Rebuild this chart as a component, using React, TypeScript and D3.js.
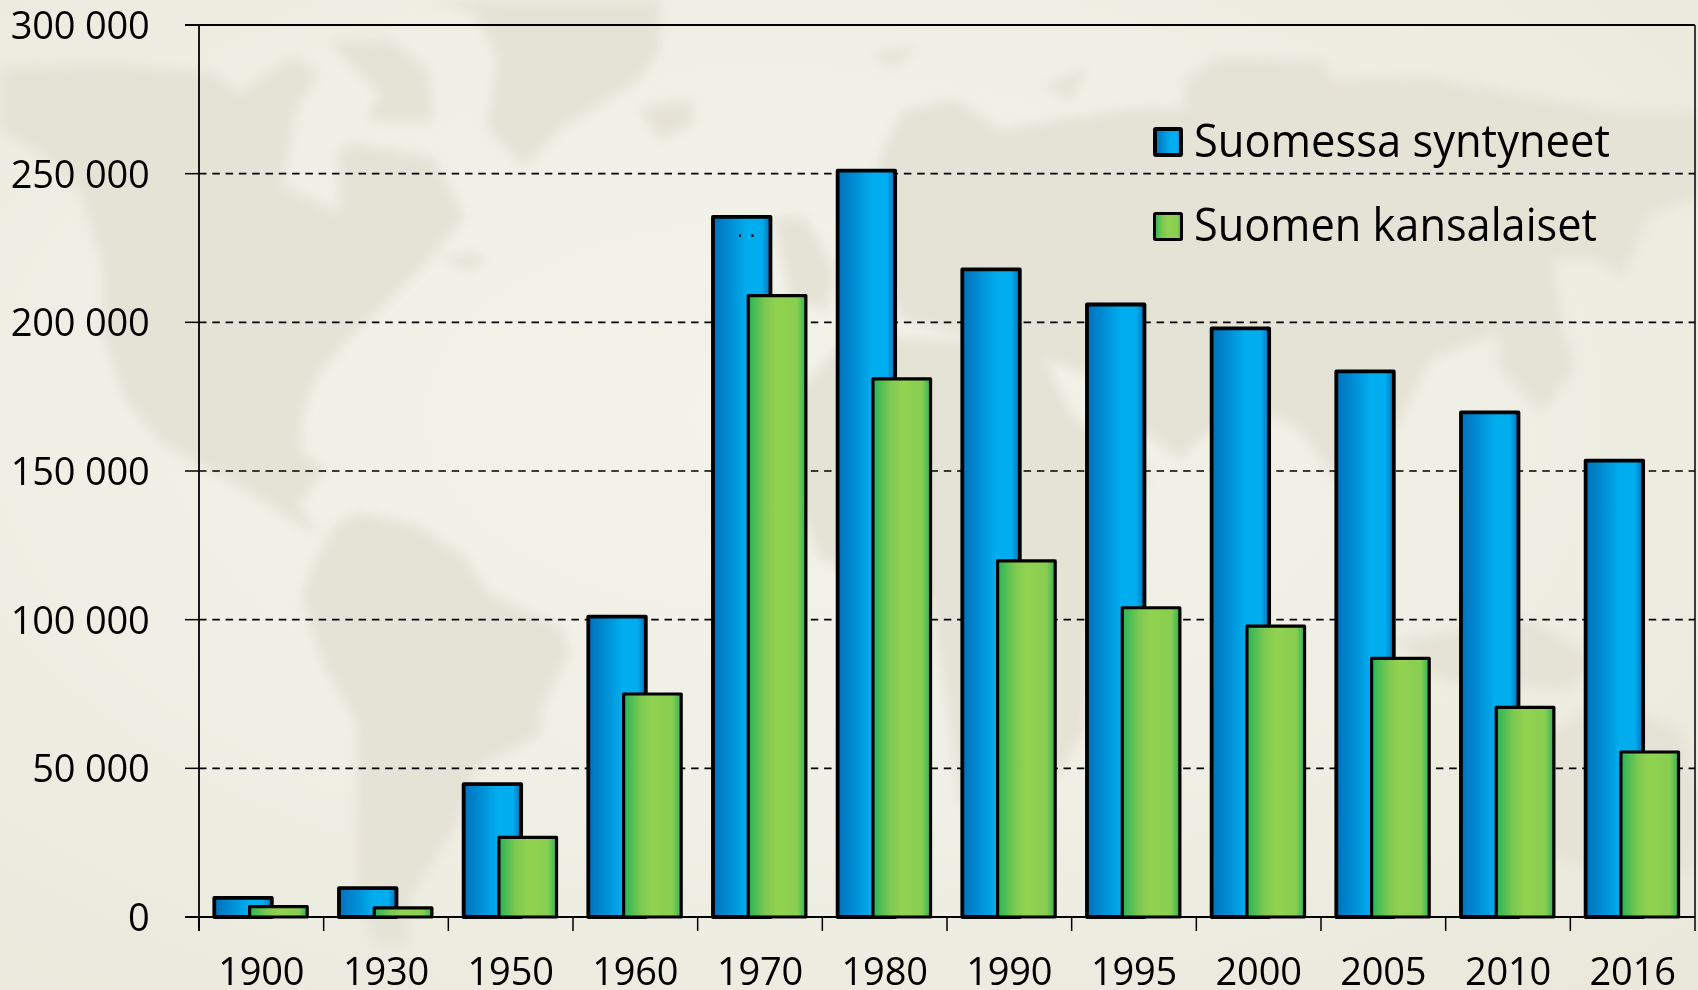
import React from "react";
import * as d3 from "d3";

const years = ["1900","1930","1950","1960","1970","1980","1990","1995","2000","2005","2010","2016"];
const bornInFinland = [6400,9700,44700,101000,235500,251000,217800,206000,198000,183500,169700,153500];
const finnishCitizens = [3500,3100,26800,75000,209000,181000,119800,104000,97800,87000,70500,55500];
const yTicks = [0,50000,100000,150000,200000,250000,300000];
const seriesNames = ["Suomessa syntyneet","Suomen kansalaiset"];
const FONT = "'Open Sans', 'Noto Sans', sans-serif";

// Decorative world-map watermark (background texture), in page pixels
const landPaths = [
  // North America
  "M0 67 L120 64 L200 72 L214 73 L238 93 L292 57 L318 72 L296 110 L282 185 L340 213 L338 150 L352 143 L433 157 L465 217 L422 267 L379 310 L347 340 L314 380 L303 413 L300 450 L325 470 L298 505 L320 538 L254 495 L162 443 L125 400 L103 333 L103 267 L81 193 L50 160 L0 130 Z",
  // Arctic islands
  "M330 40 L390 40 L428 70 L433 122 L368 120 L380 93 L352 66 Z",
  // Newfoundland
  "M438 257 L487 253 L472 272 Z",
  // Greenland
  "M428 0 L660 0 L660 50 L639 80 L558 130 L525 167 L487 127 L498 60 L476 13 Z",
  // Iceland
  "M639 107 L693 100 L693 123 L660 140 Z",
  // South America
  "M336 525 L357 512 L417 525 L466 558 L487 592 L563 628 L569 655 L541 708 L541 735 L476 768 L455 828 L411 895 L406 945 L374 945 L357 878 L357 722 L325 668 L309 622 L303 595 L314 562 Z",
  // Svalbard, Novaya Zemlya
  "M871 53 L919 47 L892 67 Z",
  "M1044 87 L1087 67 L1071 100 Z",
  // Eurasia
  "M880 157 L903 110 L957 100 L1001 130 L1055 120 L1147 107 L1185 110 L1185 80 L1217 58 L1325 60 L1331 80 L1428 77 L1499 90 L1607 110 L1698 113 L1698 197 L1650 213 L1623 277 L1596 260 L1553 260 L1564 333 L1575 367 L1542 413 L1499 367 L1499 333 L1430 360 L1400 420 L1350 500 L1300 430 L1240 400 L1180 460 L1130 420 L1100 380 L1010 345 L946 330 L900 320 L880 250 Z",
  // Western Europe
  "M774 217 L805 217 L835 270 L828 310 L790 300 Z",
  // Africa
  "M790 400 L850 335 L950 340 L1040 350 L1075 420 L1130 445 L1150 470 L1120 560 L1090 640 L1085 730 L1040 800 L990 860 L960 800 L945 690 L930 600 L880 575 L820 560 L790 480 Z",
  // Madagascar
  "M1110 700 L1128 680 L1125 740 L1108 750 Z",
  // Indonesia
  "M1395 640 L1530 620 L1600 660 L1570 690 L1440 680 Z",
  // Australia
  "M1530 750 L1600 700 L1680 730 L1698 800 L1690 870 L1600 870 L1530 850 Z",
];

const M = { left: 199, right: 1695, top: 25, bottom: 917 };

export default function App() {
  const x = d3.scaleBand<string>().domain(years).range([M.left, M.right]);
  const y = d3.scaleLinear().domain([0, 300000]).range([M.bottom, M.top]);
  const bw = x.bandwidth();
  const blueOff = 15.3, greenOff = 50.6, blueW = 57.5, greenW = 57.6;

  return (
    <svg width={1698} height={990} style={{ position: "fixed", left: 0, top: 0, display: "block" }} fontFamily={FONT}>
      <defs>
        <radialGradient id="bg" cx="0.45" cy="0.42" r="0.75">
          <stop offset="0" stopColor="#f4f3ea" />
          <stop offset="0.55" stopColor="#f0efe5" />
          <stop offset="1" stopColor="#e9e8db" />
        </radialGradient>
        <linearGradient id="blue" x1="0" y1="0" x2="1" y2="0">
          <stop offset="0" stopColor="#0071bb" />
          <stop offset="0.25" stopColor="#0089d0" />
          <stop offset="0.6" stopColor="#00aeef" />
          <stop offset="0.85" stopColor="#00aeef" />
          <stop offset="1" stopColor="#0071bb" />
        </linearGradient>
        <linearGradient id="green" x1="0" y1="0" x2="1" y2="0">
          <stop offset="0" stopColor="#28b457" />
          <stop offset="0.3" stopColor="#7dc951" />
          <stop offset="0.5" stopColor="#92d250" />
          <stop offset="0.85" stopColor="#88ce50" />
          <stop offset="1" stopColor="#2eb457" />
        </linearGradient>
        <filter id="soft" x="-10%" y="-10%" width="120%" height="120%">
          <feGaussianBlur stdDeviation="6" />
        </filter>
      </defs>

      <rect width={1698} height={990} fill="url(#bg)" />
      <g filter="url(#soft)" fill="#e5e2d6">
        {landPaths.map((d, i) => <path key={i} d={d} />)}
      </g>

      {/* gridlines */}
      {yTicks.filter(t => t > 0 && t < 300000).map(t => (
        <line key={t} x1={M.left} x2={M.right} y1={y(t)} y2={y(t)} stroke="#000" strokeWidth={1.6} strokeDasharray="7.5 5.8" />
      ))}

      {/* frame */}
      <line x1={M.left} x2={M.left} y1={M.top} y2={931} stroke="#000" strokeWidth={1.8} />
      <line x1={185} x2={M.right} y1={M.top} y2={M.top} stroke="#000" strokeWidth={2} />
      <line x1={M.right} x2={M.right} y1={M.top} y2={931} stroke="#000" strokeWidth={1.5} />

      {/* bars */}
      {years.map((yr, i) => {
        const x0 = x(yr) as number;
        return (
          <g key={yr}>
            <rect x={x0 + blueOff} y={y(bornInFinland[i])} width={blueW} height={M.bottom - y(bornInFinland[i])}
              fill="url(#blue)" stroke="#000" strokeWidth={3.8} strokeLinejoin="round" />
            <rect x={x0 + greenOff} y={y(finnishCitizens[i])} width={greenW} height={M.bottom - y(finnishCitizens[i])}
              fill="url(#green)" stroke="#000" strokeWidth={3.2} strokeLinejoin="round" />
          </g>
        );
      })}

      {/* stray marks */}
      <rect x={739} y={234.5} width={2} height={2.5} fill="#000" />
      <rect x={751.5} y={234.5} width={2} height={2.5} fill="#000" />

      {/* axes */}
      <line x1={185} x2={M.right} y1={M.bottom} y2={M.bottom} stroke="#000" strokeWidth={2} />
      {yTicks.map(t => (
        <g key={t}>
          <line x1={185} x2={M.left} y1={y(t)} y2={y(t)} stroke="#000" strokeWidth={1.5} />
          <text x={149.5} y={y(t) + 14} textAnchor="end" fontSize={38} letterSpacing="-0.2" fill="#000">
            {t === 0 ? "0" : d3.format(",")(t).replace(",", " ")}
          </text>
        </g>
      ))}
      {years.map((yr, i) => (
        <g key={yr}>
          <line x1={M.left + i * bw} x2={M.left + i * bw} y1={M.bottom} y2={931} stroke="#000" strokeWidth={1.5} />
          <text x={(x(yr) as number) + bw / 2} y={985} textAnchor="middle" fontSize={38} letterSpacing="-0.2" fill="#000">{yr}</text>
        </g>
      ))}

      {/* legend */}
      <rect x={1155} y={129} width={26} height={26} fill="url(#blue)" stroke="#000" strokeWidth={4} rx={1} />
      <rect x={1154.5} y={213.5} width={27} height={26} fill="url(#green)" stroke="#000" strokeWidth={3} rx={1} />
      <text x={1194} y={157} fontSize={45} fill="#000" textLength={416} lengthAdjust="spacingAndGlyphs">{seriesNames[0]}</text>
      <text x={1194} y={240.5} fontSize={45} fill="#000" textLength={403} lengthAdjust="spacingAndGlyphs">{seriesNames[1]}</text>
    </svg>
  );
}
